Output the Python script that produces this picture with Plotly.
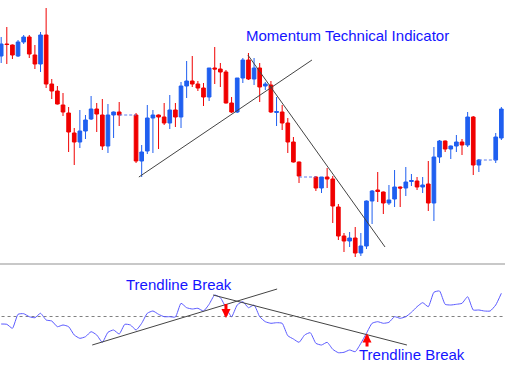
import plotly.graph_objects as go

# ---- price candles ----
idx = list(range(90))
opens = [244, 256, 255, 244, 258, 263, 245, 236, 265, 216,
         209, 195, 187, 167, 158, 169, 181, 191, 185, 154,
         185, 188, 185, 185, 185, 139, 149, 182, 185, 183,
         177, 190, 183, 214, 219, 216, 212, 203, 232, 231,
         228, 197, 188, 222, 240, 221, 232, 214, 215, 187.5,
         188, 177, 158, 138, 123, 123, 123, 112, 123, 121,
         93, 64, 59, 62, 47, 54, 99, 110, 108, 97,
         101, 113, 112, 118.5, 119, 113, 116, 97, 143, 159,
         151, 154, 158, 155, 183, 135, 140, 140, 140, 162]
highs = [263, 273, 255.5, 260, 265, 265, 255, 268, 292, 221,
         214, 207, 193, 172, 190, 185, 204, 197, 201, 196,
         188.5, 198, 185, 185, 187, 155, 195, 190, 185.5, 197,
         205, 197, 218, 239, 244, 219, 217, 232, 253, 237,
         230, 203, 222, 242, 247, 242, 237, 218, 219, 203,
         195, 182, 163, 138.5, 123, 123, 124, 123, 132, 124,
         96, 67, 68, 73, 67, 99.5, 110, 128, 108.5, 115,
         130, 113.5, 133, 126, 123, 123, 139, 153, 160, 159.5,
         154.5, 165, 161, 188, 184, 141, 140, 140, 167, 193]
lows = [237, 236, 241, 243, 256, 242, 231, 228, 212, 201,
        195.5, 184, 148, 135, 152, 161, 180, 168, 150, 147,
        162, 174, 185, 185, 137, 123, 146, 147, 151, 175,
        171, 173, 172, 202, 213, 209, 194, 199, 216, 213,
        196.5, 187, 187, 217, 220, 215, 198, 210, 187, 174,
        170, 147, 137.5, 117, 123, 123, 109, 107, 112, 77,
        60, 48, 53, 43, 44, 51, 76, 98, 86, 95,
        93, 93, 104, 114, 110, 107, 89, 79, 137, 148,
        141, 148, 145, 153, 125, 128, 140, 140, 137, 160]
closes = [256, 255.5, 245, 258, 263, 246, 236, 265, 216, 209,
          196, 188, 168, 158, 169, 180, 191, 186, 154, 185,
          188, 185, 185, 185, 139, 148, 182, 185, 183, 177,
          190, 183, 214, 219, 216, 212, 203, 232, 231, 228,
          197, 188, 222, 240, 221, 232, 213, 216, 188, 188.5,
          177, 158, 138, 124, 123, 123, 112, 123, 121, 94,
          64, 59, 62, 47, 54, 99, 109, 108.5, 97, 100,
          113, 112, 118, 119.5, 113, 115, 97, 143, 159, 151,
          154, 158, 155, 183, 135, 140, 140, 140, 163, 191]

# ---- momentum indicator ----
momentum = [99.25, 99.22, 98.82, 100.22, 100.28, 99.98, 99.88, 100.32, 99.65, 99.55,
            98.98, 99.15, 98.98, 98.15, 97.82, 97.98, 98.48, 98.15, 97.42, 98.42,
            98.65, 98.25, 99.22, 99.15, 98.65, 99.32, 100.32, 100.55, 100.22, 99.98,
            99.98, 99.95, 101.32, 100.88, 100.75, 100.82, 100.55, 101.22, 102.15, 101.88,
            100.88, 99.98, 101.15, 101.48, 100.88, 101.15, 99.98, 99.48, 99.32, 99.38,
            99.32, 98.08, 97.75, 97.42, 98.15, 98.38, 97.32, 97.15, 97.42, 96.72,
            96.38, 96.42, 96.65, 96.48, 97.32, 98.32, 99.32, 99.48, 99.32, 99.42,
            99.98, 99.82, 99.98, 100.42, 100.98, 101.38, 100.98, 102.42, 102.55, 101.22,
            101.15, 101.22, 101.32, 101.98, 100.65, 100.65, 100.55, 100.55, 101.15, 102.32]
mom_level = 100

# ---- trendlines (candle index, value) ----
price_up_x, price_up_y = [24.5, 55.3], [123, 240]
price_dn_x, price_dn_y = [43.9, 68.3], [245, 53]
mom_up_x, mom_up_y = [16.2, 49.1], [97.15, 102.75]
mom_dn_x, mom_dn_y = [37.7, 72.2], [102.15, 97.15]

# ---- arrows (index, tail value, head value) ----
arrow_down = (40.0, 101.4, 99.85)
arrow_up = (65.1, 96.85, 98.3)

BLUE = "#1f5ff0"
RED = "#f00000"
TXT = "#1414ff"

# split real candles from flat (no-move) bars, which MT4 draws as a dashed line
flat = [i for i in idx if opens[i] == highs[i] == lows[i] == closes[i]]
real = [i for i in idx if i not in flat]

fig = go.Figure()
fig.add_trace(go.Candlestick(
    x=real, open=[opens[i] for i in real], high=[highs[i] for i in real],
    low=[lows[i] for i in real], close=[closes[i] for i in real],
    increasing=dict(line=dict(color=BLUE, width=1), fillcolor=BLUE),
    decreasing=dict(line=dict(color=RED, width=1), fillcolor=RED),
    whiskerwidth=0, xaxis="x", yaxis="y", showlegend=False, hoverinfo="skip"))

# dashed connectors for flat runs
runs = []
for i in flat:
    if runs and runs[-1][-1] == i - 1:
        runs[-1].append(i)
    else:
        runs.append([i])
for r in runs:
    fig.add_trace(go.Scatter(x=[r[0] - 1, r[-1] + 1], y=[opens[r[0]], opens[r[0]]], mode="lines",
                             line=dict(color="#5a7df0", width=1, dash="3px,2px"),
                             xaxis="x", yaxis="y", showlegend=False, hoverinfo="skip"))

for xs, ys in [(price_up_x, price_up_y), (price_dn_x, price_dn_y)]:
    fig.add_trace(go.Scatter(x=xs, y=ys, mode="lines", line=dict(color="#444444", width=1),
                             xaxis="x", yaxis="y", showlegend=False, hoverinfo="skip"))

fig.add_trace(go.Scatter(x=[idx[0] - 1, idx[-1] + 1], y=[mom_level, mom_level], mode="lines",
                         line=dict(color="#808080", width=1, dash="dot"),
                         xaxis="x2", yaxis="y2", showlegend=False, hoverinfo="skip"))
fig.add_trace(go.Scatter(x=idx, y=momentum, mode="lines",
                         line=dict(color="#5a5aff", width=1, shape="spline", smoothing=0.5),
                         xaxis="x2", yaxis="y2", showlegend=False, hoverinfo="skip"))
for xs, ys in [(mom_up_x, mom_up_y), (mom_dn_x, mom_dn_y)]:
    fig.add_trace(go.Scatter(x=xs, y=ys, mode="lines", line=dict(color="#444444", width=1),
                             xaxis="x2", yaxis="y2", showlegend=False, hoverinfo="skip"))

annotations = []
for ax_, tail, head in [arrow_down, arrow_up]:
    annotations.append(dict(x=ax_, y=head, ax=ax_, ay=tail, xref="x2", yref="y2",
                            axref="x2", ayref="y2", showarrow=True, arrowhead=2,
                            arrowsize=0.6, arrowwidth=3, arrowcolor="#ff0000", text=""))
font = dict(family="Liberation Sans, Arial", size=15, color=TXT)
annotations.append(dict(text="Momentum Technical Indicator", x=347.5 / 505, y=1 - 36 / 369,
                        xref="paper", yref="paper", showarrow=False, font=font,
                        xanchor="center", yanchor="middle"))
annotations.append(dict(text="Trendline Break", x=179 / 505, y=1 - 284 / 369,
                        xref="paper", yref="paper", showarrow=False, font=font,
                        xanchor="center", yanchor="middle"))
annotations.append(dict(text="Trendline Break", x=411.5 / 505, y=1 - 354.5 / 369,
                        xref="paper", yref="paper", showarrow=False, font=font,
                        xanchor="center", yanchor="middle"))

xr = [-0.21, 89.65]
fig.update_layout(
    width=505, height=369, margin=dict(l=0, r=0, t=0, b=0),
    paper_bgcolor="white", plot_bgcolor="white",
    boxgap=0.35, boxgroupgap=0,
    xaxis=dict(range=xr, visible=False, rangeslider=dict(visible=False), anchor="y"),
    yaxis=dict(range=[38, 300], visible=False, domain=[1 - 262 / 369, 1], anchor="x"),
    xaxis2=dict(range=xr, visible=False, anchor="y2"),
    yaxis2=dict(range=[94.75, 105.05], visible=False, domain=[0, 1 - 266 / 369], anchor="x2"),
    shapes=[dict(type="rect", xref="paper", yref="paper", x0=0, x1=1,
                 y0=1 - 265 / 369, y1=1 - 263 / 369, fillcolor="#c8c8c8", line=dict(width=0))],
    annotations=annotations,
)
fig.write_html("out.html", config={"displayModeBar": False},
               post_script="document.body.style.margin='0';document.body.style.padding='0';")
